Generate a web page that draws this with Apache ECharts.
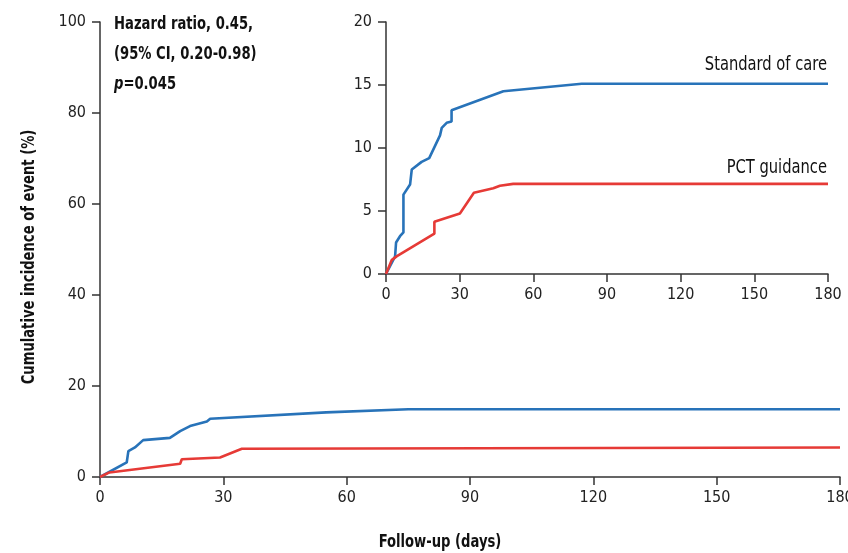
<!DOCTYPE html>
<html>
<head>
<meta charset="utf-8">
<script src="https://cdn.jsdelivr.net/npm/echarts@6/dist/echarts.min.js"></script>
<style>
  html, body { margin: 0; padding: 0; background: #fff; }
  #chart { width: 848px; height: 553px; }
</style>
</head>
<body>
<div id="chart"></div>
<script>
// main panel (0-100 %)
var mainSocDays = [0, 6.5, 6.9, 8.5, 10.5, 17, 19.5, 21.9, 26, 26.8, 55, 75, 180]
var mainSocVals = [0, 3.2, 5.7, 6.5, 8.1, 8.6, 10.1, 11.2, 12.2, 12.8, 14.2, 14.9, 14.9]
var mainPctDays = [0, 2.3, 19.5, 19.9, 29.2, 34.5, 34.9, 180]
var mainPctVals = [0, 1.0, 2.9, 3.9, 4.3, 6.2, 6.5, 6.5]

// inset (0-20 %)
var insetSocDays = [0, 3.7, 4.1, 5.7, 7.1, 7.1, 9.8, 10.5, 14.5, 17.6, 22, 22.7, 24.7, 26.7, 26.7, 47.8, 79.7, 180]
var insetSocVals = [0, 1.4, 2.5, 3.0, 3.3, 6.3, 7.1, 8.3, 8.9, 9.2, 11.0, 11.6, 12.0, 12.1, 13.0, 14.5, 15.1, 15.1]
var insetPctDays = [0, 2.3, 4.3, 19.7, 19.7, 30.1, 35.8, 43.7, 46.4, 51.8, 180]
var insetPctVals = [0, 1.1, 1.4, 3.2, 4.15, 4.8, 6.45, 6.8, 7.0, 7.15, 7.15]

var mainYTicks = [0, 100, 20]
var insetYTicks = [0, 20, 5]
var xTicks = [0, 180, 30]

var blue = '#2873b9'
var red = '#e63a36'
var font = '"DejaVu Sans Condensed", "DejaVu Sans", sans-serif'
var axisColor = '#333'

function zip(xs, ys) {
  return xs.map(function(x, i) { return [x, ys[i]] })
}

function makeX(gridIndex) {
  return {
    type: 'value',
    gridIndex: gridIndex,
    min: xTicks[0],
    max: xTicks[1],
    interval: xTicks[2],
    axisLine: { lineStyle: { color: axisColor, width: 1.5 } },
    axisTick: { length: 8, lineStyle: { color: axisColor, width: 1.5 } },
    axisLabel: { color: '#222', fontSize: 16, fontFamily: font, margin: 13 },
    splitLine: { show: false }
  }
}

function makeY(gridIndex, ticks) {
  return {
    type: 'value',
    gridIndex: gridIndex,
    min: ticks[0],
    max: ticks[1],
    interval: ticks[2],
    axisLine: { show: true, lineStyle: { color: axisColor, width: 1.5 } },
    axisTick: { show: true, length: 8, lineStyle: { color: axisColor, width: 1.5 } },
    axisLabel: { color: '#222', fontSize: 16, fontFamily: font, margin: 14 },
    splitLine: { show: false }
  }
}

function line(name, data, color, idx) {
  return {
    name: name,
    type: 'line',
    xAxisIndex: idx,
    yAxisIndex: idx,
    data: data,
    symbol: 'none',
    smooth: false,
    lineStyle: { color: color, width: 2.6 },
    itemStyle: { color: color },
    z: 3
  }
}

// condensed-looking text (squeezed horizontally)
function label(x, y, text, size, bold, align, extra) {
  var el = {
    type: 'text', x: x, y: y, scaleX: 0.86,
    style: {
      text: text, fontFamily: font, fontSize: size,
      fontWeight: bold ? 'bold' : 'normal', fill: '#111',
      align: align, verticalAlign: 'middle'
    }
  }
  if (extra) Object.assign(el.style, extra)
  return el
}

var chart = echarts.init(document.getElementById('chart'))
chart.setOption({
  animation: false,
  backgroundColor: '#fff',
  grid: [
    { left: 100, right: 8, top: 22, bottom: 76, outerBoundsMode: 'none' },
    { left: 386, right: 20, top: 22, bottom: 279, outerBoundsMode: 'none' }
  ],
  xAxis: [makeX(0), makeX(1)],
  yAxis: [makeY(0, mainYTicks), makeY(1, insetYTicks)],
  series: [
    line('Standard of care', zip(mainSocDays, mainSocVals), blue, 0),
    line('PCT guidance', zip(mainPctDays, mainPctVals), red, 0),
    line('Standard of care', zip(insetSocDays, insetSocVals), blue, 1),
    line('PCT guidance', zip(insetPctDays, insetPctVals), red, 1)
  ],
  graphic: [
    label(114, 10, 'Hazard ratio, 0.45,\n(95% CI, 0.20-0.98)\n{i|p}=0.045', 17, true, 'left', {
      verticalAlign: 'top',
      lineHeight: 30,
      rich: { i: { fontStyle: 'italic', fontWeight: 'bold', fontFamily: font, fontSize: 17, fill: '#111', lineHeight: 30 } }
    }),
    label(827, 65, 'Standard of care', 19, false, 'right'),
    label(827, 168, 'PCT guidance', 19, false, 'right'),
    label(440, 543, 'Follow-up (days)', 17, true, 'center'),
    Object.assign(label(30, 257, 'Cumulative incidence of event (%)', 17, true, 'center'), { rotation: Math.PI / 2 })
  ]
})
</script>
</body>
</html>
